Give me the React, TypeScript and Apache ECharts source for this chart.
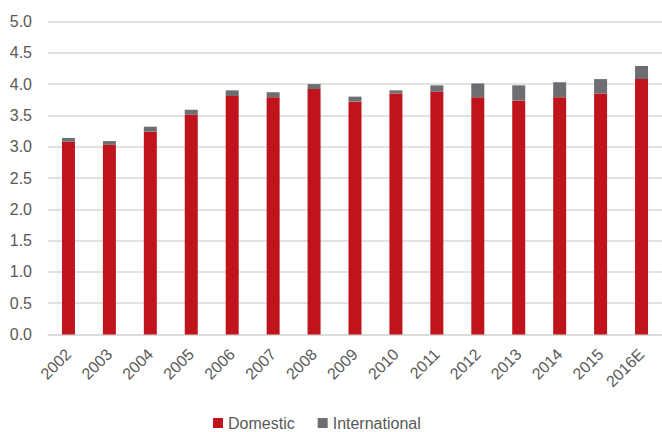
import React, { useEffect, useRef } from "react";
import * as echarts from "echarts";

const categories = ["2002","2003","2004","2005","2006","2007","2008","2009","2010","2011","2012","2013","2014","2015","2016E"];
const domestic = [3.08,3.03,3.24,3.51,3.81,3.79,3.92,3.72,3.85,3.88,3.79,3.74,3.79,3.85,4.08];
const international = [0.06,0.06,0.08,0.08,0.09,0.08,0.08,0.08,0.05,0.1,0.22,0.24,0.24,0.23,0.21];
const yTicks = { min: 0, max: 5, interval: 0.5 };

const FONT = "'Liberation Sans', Arial, sans-serif";

export default function App() {
  const ref = useRef<HTMLDivElement>(null);
  useEffect(() => {
    const chart = echarts.init(ref.current!, null, { renderer: "svg" });
    chart.setOption({
      animation: false,
      grid: { left: 48, right: -7.4, top: 21.5, bottom: 97.5, containLabel: false },
      legend: {
        top: 415,
        left: 213,
        padding: 0,
        icon: "rect",
        itemWidth: 10,
        itemHeight: 10,
        itemGap: 23,
        textStyle: { fontFamily: FONT, fontSize: 16, color: "#595959" },
        data: ["Domestic", "International"],
      },
      xAxis: {
        type: "category",
        data: categories,
        axisLine: { lineStyle: { color: "#d9d9d9", width: 1.5 } },
        axisTick: { show: false },
        axisLabel: { rotate: 45, interval: 0, fontFamily: FONT, fontSize: 16, color: "#595959", margin: 17 },
      },
      yAxis: {
        type: "value",
        min: yTicks.min,
        max: yTicks.max,
        interval: yTicks.interval,
        axisLine: { show: false },
        axisTick: { show: false },
        splitLine: { lineStyle: { color: "#d9d9d9", width: 1.5 } },
        axisLabel: { formatter: (v: number) => v.toFixed(1), fontFamily: FONT, fontSize: 16, color: "#595959", margin: 16 },
      },
      series: [
        { name: "Domestic", type: "bar", stack: "t", data: domestic, barWidth: 13, itemStyle: { color: "#C0141C" } },
        { name: "International", type: "bar", stack: "t", data: international, barWidth: 13, itemStyle: { color: "#6D6E71" } },
      ],
    });
    return () => chart.dispose();
  }, []);
  return <div ref={ref} style={{ width: 662, height: 432, position: "absolute", left: 0, top: 0 }} />;
}
